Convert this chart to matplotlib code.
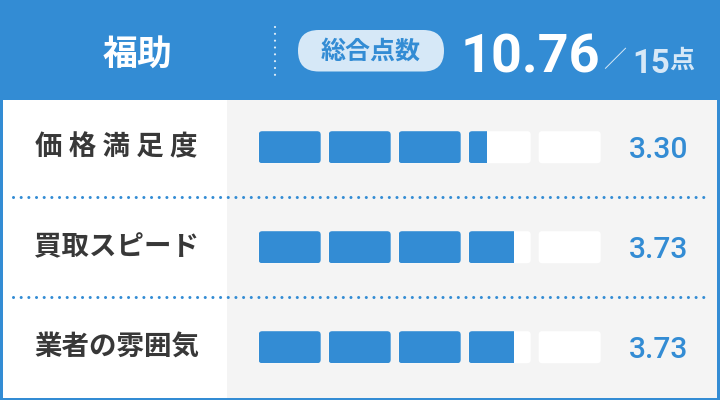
import numpy as np
import matplotlib
matplotlib.use("Agg")
import matplotlib.pyplot as plt
from matplotlib.patches import FancyBboxPatch, Rectangle

# ---- data ----
company = "福助"
total_label = "総合点数"
total_score = 10.76
total_max = 15
categories = ["価格満足度", "買取スピード", "業者の雰囲気"]
scores = [3.30, 3.73, 3.73]
n_segments = 5

# ---- style ----
BLUE = "#338CD4"
GREY = "#F4F4F4"
LIGHT = "#D6E8F7"
DARK = "#383838"
CJK = ["Noto Sans CJK JP", "DejaVu Sans"]

W, H = 720, 400
fig = plt.figure(figsize=(W / 100, H / 100), dpi=100)
ax = fig.add_axes([0, 0, 1, 1])
ax.set_xlim(0, W)
ax.set_ylim(H, 0)
ax.axis("off")

def px(v):
    return v * 0.72

# background / frame
ax.add_patch(Rectangle((0, 0), W, H, facecolor=BLUE, edgecolor="none"))
ax.add_patch(Rectangle((3, 99.5), 224, 298, facecolor="white", edgecolor="none"))
ax.add_patch(Rectangle((227, 99.5), 489.5, 298, facecolor=GREY, edgecolor="none"))

# header
ax.text(137.5, 54, company, family=CJK, fontsize=px(35), fontweight="bold",
        color="white", ha="center", va="center")
ax.plot([275, 275], [27, 75], color="white", alpha=0.85, lw=1.6,
        linestyle=(0, (0.01, 4.9 / 1.6)), dash_capstyle="round")
ax.add_patch(FancyBboxPatch((298, 30), 146, 41.5,
                            boxstyle="round,pad=0,rounding_size=20.7",
                            facecolor=LIGHT, edgecolor="none"))
ax.text(371, 52, total_label, family=CJK, fontsize=px(25), fontweight="bold",
        color=BLUE, ha="center", va="center")
ax.text(461, 72.5, f"{total_score:.2f}", family="Roboto", fontsize=px(54),
        fontweight="bold", color="white", ha="left", va="baseline")
ax.text(615, 61, "／", family=CJK, fontsize=px(23), color=LIGHT,
        ha="center", va="center")
ax.text(632, 72.7, f"{total_max}", family="Roboto", fontsize=px(33),
        fontweight="bold", color=LIGHT, ha="left", va="baseline")
ax.text(681.5, 61, "点", family=CJK, fontsize=px(25), fontweight="bold",
        color=LIGHT, ha="center", va="center")

# rows
row_top = 99.5
row_h = 100
bar_x0 = 258.7
seg_w = 62
seg_step = 70
bar_h = 32
for r, (cat, sc) in enumerate(zip(categories, scores)):
    yc = row_top + 47.7 + r * row_h
    label = cat if len(cat) >= 6 else " ".join(cat)
    ax.text(116.5, yc, label, family=CJK, fontsize=px(27.5), fontweight="bold",
            color=DARK, ha="center", va="center")
    for i in range(n_segments):
        x0 = bar_x0 + i * seg_step
        ax.add_patch(FancyBboxPatch((x0, yc - bar_h / 2), seg_w, bar_h,
                                    boxstyle="round,pad=0,rounding_size=3.5",
                                    facecolor="white", edgecolor="none"))
        fill = float(np.clip(sc - i, 0, 1))
        if fill > 0:
            p = FancyBboxPatch((x0, yc - bar_h / 2), seg_w, bar_h,
                               boxstyle="round,pad=0,rounding_size=3.5",
                               facecolor=BLUE, edgecolor="none")
            ax.add_patch(p)
            clip = Rectangle((x0, yc - bar_h / 2), seg_w * fill, bar_h,
                             transform=ax.transData)
            p.set_clip_path(clip)
    ax.text(688.5, yc + 10.5, f"{sc:.2f}", family="Roboto", fontsize=px(30),
            fontweight="medium", color=BLUE, ha="right", va="baseline")
    if r < len(categories) - 1:
        ys = row_top + (r + 1) * row_h - 3
        ax.plot([13, 707], [ys, ys], color=BLUE, lw=2.2,
                linestyle=(0, (0.01, 5.5 / 2.2)), dash_capstyle="round")

fig.savefig("out.png", dpi=100)
